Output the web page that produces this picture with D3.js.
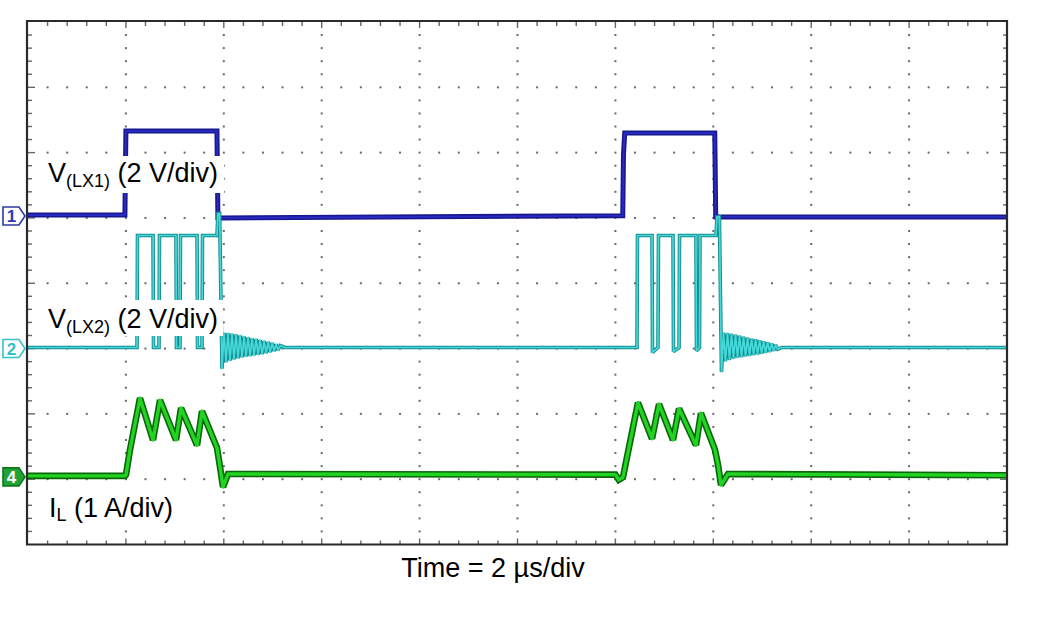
<!DOCTYPE html>
<html><head><meta charset="utf-8">
<script src="https://cdn.jsdelivr.net/npm/d3@7"></script>
<style>body{margin:0;background:#fff}svg{display:block}</style>
</head><body>
<svg id="c" width="1044" height="626"></svg>
<script>
// ---- data (time in µs, values in channel units) ----
const lx1Time = [0, 1.98, 2.00, 3.86, 3.88, 3.92, 12.15, 12.165, 12.19, 14.03, 14.05, 14.09, 20];
const lx1Volt = [0, 0, 2.57, 2.57, -0.15, -0.09, -0.02, 1.85, 2.51, 2.51, -0.12, -0.06, -0.06];

const lx2Time = [0, 2.227, 2.237, 2.554, 2.564, 2.676, 2.686, 3.023, 3.033, 3.105, 3.115, 3.453, 3.463, 3.555, 3.565, 3.861, 3.88, 3.915, 3.963,
  4.004, 4.045, 4.086, 4.127, 4.168, 4.209, 4.250, 4.291, 4.332, 4.373, 4.414, 4.455, 4.496, 4.537, 4.578, 4.619, 4.660, 4.701, 4.742, 4.783, 4.824, 4.865, 4.906, 4.947, 4.988, 5.029, 5.07, 5.111, 5.152, 5.25,
  12.441, 12.451, 12.748, 12.758, 12.87, 12.88, 13.177, 13.187, 13.30, 13.31, 13.646, 13.656, 13.718, 13.728, 14.055, 14.075, 14.125, 14.167,
  14.208, 14.249, 14.29, 14.331, 14.372, 14.413, 14.454, 14.495, 14.536, 14.577, 14.618, 14.659, 14.70, 14.741, 14.782, 14.823, 14.864, 14.905, 14.946, 14.987, 15.028, 15.069, 15.11, 15.151, 15.192, 15.233, 15.274, 15.315, 15.4, 20];
const lx2Volt = [0, 0, 3.43, 3.43, 0, 0, 3.43, 3.43, 0, 0, 3.43, 3.43, 0, 0, 3.43, 3.43, 4.1, 4.1, -0.65,
  0.45, -0.45, 0.44, -0.40, 0.42, -0.36, 0.40, -0.33, 0.37, -0.30, 0.34, -0.28, 0.31, -0.26, 0.28, -0.24, 0.26, -0.22, 0.23, -0.20, 0.20, -0.17, 0.17, -0.14, 0.14, -0.11, 0.10, -0.08, 0.06, 0,
  0, 3.43, 3.43, -0.15, 0, 3.43, 3.43, -0.12, 0, 3.43, 3.43, -0.1, 0, 3.43, 3.43, 4.0, 4.0, -0.75,
  0.45, -0.42, 0.44, -0.38, 0.42, -0.34, 0.39, -0.31, 0.36, -0.29, 0.33, -0.27, 0.30, -0.25, 0.27, -0.23, 0.25, -0.21, 0.22, -0.19, 0.19, -0.16, 0.16, -0.13, 0.12, -0.10, 0.08, -0.05, 0, 0];

const ilTime = [0, 1.982, 2.002, 2.084, 2.288, 2.554, 2.697, 3.023, 3.126, 3.453, 3.555, 3.861, 3.922, 3.984, 4.086,
  12.0, 12.07, 12.155, 12.461, 12.748, 12.891, 13.177, 13.300, 13.646, 13.748, 14.035, 14.096, 14.157, 14.30, 20];
const ilAmp = [0, 0, 0.02, 0.40, 1.19, 0.55, 1.16, 0.55, 1.04, 0.47, 0.99, 0.43, 0.14, -0.17, 0.03,
  0.02, -0.06, -0.02, 1.12, 0.57, 1.10, 0.55, 1.03, 0.47, 0.96, 0.40, 0.17, -0.14, 0.03, 0.01];

const channelIds = ["1", "2", "4"];
const channelLabels = ["(LX1)", "(LX2)", "L"];
const channelScales = ["(2 V/div)", "(2 V/div)", "(1 A/div)"];
const xLabel = "Time = 2 µs/div";

// ---- layout ----
const svg = d3.select("#c");
const X0 = 28, X1 = 1007, Y0 = 22, Y1 = 544.5;
const x = d3.scaleLinear().domain([0, 20]).range([X0, X1]);
const y = d3.scaleLinear().domain([-4, 4]).range([Y1, Y0]);

const channels = [
  {id: channelIds[0], t: lx1Time, v: lx1Volt, perDiv: 2, ground: 1.045, outer: "#18188e", inner: "#2a2ac4", ow: 5, iw: 1.8, mStroke: "#2a3aa8", mFill: "#fff", mText: "#2a3ab8"},
  {id: channelIds[1], t: lx2Time, v: lx2Volt, perDiv: 2, ground: -0.984, outer: "#148c8e", inner: "#45d8d8", ow: 3.6, iw: 1.7, mStroke: "#35c4cc", mFill: "#fff", mText: "#2cc0cc"},
  {id: channelIds[2], t: ilTime, v: ilAmp, perDiv: 1, ground: -2.95, outer: "#0b650b", inner: "#22d422", ow: 6.6, iw: 3.4, mStroke: "#0d7a1a", mFill: "#22a33a", mText: "#fff"}
];

// ---- graticule ----
const g = svg.append("g");
const dx = (X1 - X0) / 10, dy = (Y1 - Y0) / 8;
const dotColor = "#6a6a6a";
for (let i = 1; i < 10; i++) {
  for (let k = 1; k < 40; k++) {
    g.append("rect").attr("x", X0 + i * dx - 1).attr("y", Y0 + k * dy / 5 - 1)
      .attr("width", 2).attr("height", 2).attr("fill", dotColor);
  }
}
for (let j = 1; j < 8; j++) {
  for (let k = 1; k < 50; k++) {
    if (k % 5 === 0) continue;
    g.append("rect").attr("x", X0 + k * dx / 5 - 1).attr("y", Y0 + j * dy - 1)
      .attr("width", 2).attr("height", 2).attr("fill", dotColor);
  }
}
for (let k = 1; k < 50; k++) {
  const xx = X0 + k * dx / 5, len = k % 5 === 0 ? 6 : 4;
  g.append("line").attr("x1", xx).attr("x2", xx).attr("y1", Y0).attr("y2", Y0 + len).attr("stroke", "#666").attr("stroke-width", 1.4);
  g.append("line").attr("x1", xx).attr("x2", xx).attr("y1", Y1).attr("y2", Y1 - len).attr("stroke", "#666").attr("stroke-width", 1.4);
}
for (let k = 1; k < 40; k++) {
  const yy = Y0 + k * dy / 5, len = k % 5 === 0 ? 7 : 4;
  g.append("line").attr("y1", yy).attr("y2", yy).attr("x1", X0).attr("x2", X0 + len).attr("stroke", "#666").attr("stroke-width", 1.4);
  g.append("line").attr("y1", yy).attr("y2", yy).attr("x1", X1).attr("x2", X1 - len).attr("stroke", "#666").attr("stroke-width", 1.4);
}

// ---- traces ----
channels.forEach(ch => {
  const n = Math.min(ch.t.length, ch.v.length);
  const pts = ch.t.slice(0, n).map((t, i) => [t, ch.v[i]]);
  const line = d3.line().x(d => x(d[0])).y(d => y(ch.ground + d[1] / ch.perDiv));
  svg.append("path").attr("d", line(pts)).attr("fill", "none").attr("stroke", ch.outer)
    .attr("stroke-width", ch.ow).attr("stroke-linejoin", "miter").attr("stroke-miterlimit", 2);
  svg.append("path").attr("d", line(pts)).attr("fill", "none").attr("stroke", ch.inner)
    .attr("stroke-width", ch.iw).attr("stroke-linejoin", "round");
});

// ---- frame ----
svg.append("path").attr("d", `M${X0-1},${Y0-1}H${X1}V${Y1}H${X0-1}Z`).attr("fill", "none").attr("stroke", "#2a2a2a").attr("stroke-width", 2.2);

// ---- labels ----
const font = "'Liberation Sans', Arial, Helvetica, sans-serif";
const labelBaselines = [182, 328, 517];
const labelBoxes = [[44, 156, 180, 37], [44, 300, 179, 36], [44, 491, 136, 37]];
channels.forEach((ch, i) => {
  const b = labelBoxes[i];
  svg.append("rect").attr("x", b[0]).attr("y", b[1]).attr("width", b[2]).attr("height", b[3]).attr("fill", "#fff");
  const t = svg.append("text").attr("x", i === 2 ? 49 : 48).attr("y", labelBaselines[i])
    .attr("font-family", font).attr("font-size", 27).attr("fill", "#000");
  t.append("tspan").text(i === 2 ? "I" : "V");
  t.append("tspan").attr("font-size", 18).attr("dy", i === 2 ? 4 : 5).text(channelLabels[i]);
  t.append("tspan").attr("dy", i === 2 ? -4 : -5).text(" " + channelScales[i]);
});

svg.append("text").attr("x", 493).attr("y", 577).attr("text-anchor", "middle")
  .attr("font-family", font).attr("font-size", 27).attr("fill", "#000").text(xLabel);

// ---- channel markers ----
channels.forEach(ch => {
  const cy = y(ch.ground) + 1;
  const m = svg.append("g").attr("transform", `translate(0,${cy})`);
  m.append("path").attr("d", "M3,-9H19L25,0L19,9H3Z").attr("fill", ch.mFill)
    .attr("stroke", ch.mStroke).attr("stroke-width", 1.6);
  m.append("text").attr("x", 11.5).attr("y", 6).attr("text-anchor", "middle")
    .attr("font-family", font).attr("font-size", 17).attr("font-weight", "bold")
    .attr("fill", ch.mText).text(ch.id);
});
</script>
</body></html>
